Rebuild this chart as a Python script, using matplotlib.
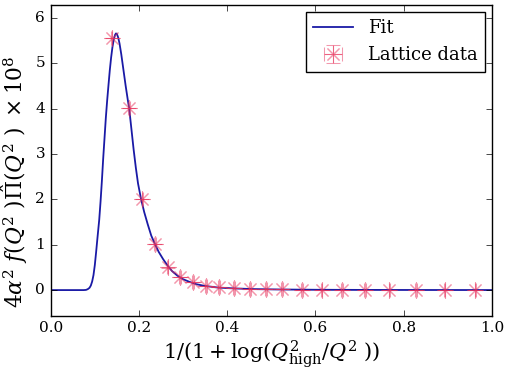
import numpy as np
import matplotlib
matplotlib.use('Agg')
import matplotlib.pyplot as plt

# Lattice data points
lat_x = [0.138, 0.178, 0.208, 0.237, 0.265, 0.293, 0.323, 0.352, 0.382, 0.416,
         0.452, 0.488, 0.524, 0.569, 0.614, 0.661, 0.713, 0.768, 0.828, 0.893, 0.963]
lat_y = [5.55, 4.01, 2.01, 1.01, 0.50, 0.28, 0.17, 0.09, 0.06, 0.04,
         0.03, 0.02, 0.015, 0.01, 0.008, 0.006, 0.005, 0.004, 0.003, 0.002, 0.002]

# Fit curve, sampled by eye
fit_x = [0.0, 0.075, 0.080, 0.084, 0.088, 0.091, 0.094, 0.097, 0.100, 0.103,
         0.106, 0.110, 0.113, 0.116, 0.119, 0.122, 0.125, 0.128, 0.131, 0.134,
         0.137, 0.140, 0.143, 0.146, 0.148, 0.150, 0.153, 0.156, 0.160, 0.165,
         0.170, 0.175, 0.178, 0.183, 0.188, 0.193, 0.198, 0.205, 0.212, 0.220,
         0.228, 0.237, 0.245, 0.255, 0.265, 0.275, 0.287, 0.300, 0.315, 0.330,
         0.350, 0.380, 0.420, 0.460, 0.520, 0.600, 0.700, 0.850, 1.0]
fit_y = [0.0, 0.0, 0.004, 0.02, 0.05, 0.10, 0.19, 0.33, 0.55, 0.84,
         1.15, 1.55, 1.95, 2.40, 2.90, 3.35, 3.80, 4.18, 4.52, 4.85,
         5.13, 5.36, 5.53, 5.63, 5.66, 5.65, 5.57, 5.44, 5.20, 4.85,
         4.50, 4.18, 4.00, 3.55, 3.10, 2.70, 2.35, 2.00, 1.72, 1.45,
         1.20, 1.00, 0.84, 0.68, 0.54, 0.42, 0.32, 0.24, 0.18, 0.13,
         0.09, 0.055, 0.035, 0.022, 0.013, 0.007, 0.004, 0.002, 0.001]

plt.style.use('classic')
plt.rcParams['font.family'] = 'DejaVu Serif'
plt.rcParams['mathtext.fontset'] = 'dejavuserif'

fig = plt.figure(figsize=(5.07, 3.73), dpi=100)
ax = fig.add_axes([0.1, 0.153, 0.87, 0.834])

ax.plot(fit_x, fit_y, color=(0.1, 0.1, 0.65), lw=1.3, label='Fit')
ax.errorbar(lat_x, lat_y, xerr=0.002, yerr=0.002, ls='none', marker=(8, 2, 0),
            ms=12, mew=0.75, color='#e8305a', ecolor='#e8305a', alpha=0.5,
            capsize=5, elinewidth=0.75, label='Lattice data')

ax.legend(loc='upper right', fontsize=13, numpoints=1, handlelength=2.2,
          borderaxespad=0.4, fancybox=False)

ax.set_xlim(0, 1)
ax.set_ylim(-0.57, 6.29)
ax.set_xticks([0.0, 0.2, 0.4, 0.6, 0.8, 1.0])
ax.set_yticks([0, 1, 2, 3, 4, 5, 6])
ax.tick_params(labelsize=11)
ax.set_xlabel(r'$1/(1+\log(Q^2_{\rm high}/Q^2\ ))$', fontsize=15, labelpad=2)
ax.set_ylabel(r'$4\alpha^2\ f(Q^2\ )\hat{\Pi}(Q^2\ )\ \times 10^8$', fontsize=15.7)
ax.yaxis.set_label_coords(-0.046, 0.43)

fig.savefig('out.png', dpi=100, facecolor='white')
